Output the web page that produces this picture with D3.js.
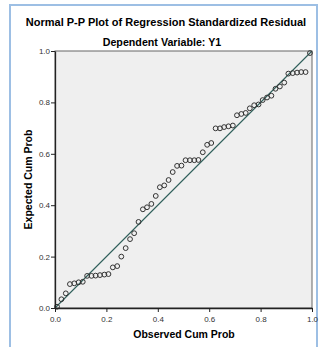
<!DOCTYPE html>
<html>
<head>
<meta charset="utf-8">
<script src="https://cdn.jsdelivr.net/npm/d3@7"></script>
<style>
  body { margin: 0; background: #fff; }
  svg { display: block; font-family: Arial, "Liberation Sans", sans-serif; }
</style>
</head>
<body>
<svg width="326" height="347"></svg>
<script>
var titleText = 'Normal P-P Plot of Regression Standardized Residual';
var subTitle = 'Dependent Variable: Y1';
var xLabel = 'Observed Cum Prob';
var yLabel = 'Expected Cum Prob';
var tickVals = [0, 0.2, 0.4, 0.6, 0.8, 1.0];

// observed cum prob
var observed = [0.008, 0.025, 0.042, 0.058, 0.075, 0.092, 0.108, 0.125, 0.142, 0.158,
  0.175, 0.192, 0.208, 0.225, 0.242, 0.258, 0.275, 0.292, 0.308, 0.325,
  0.342, 0.358, 0.375, 0.392, 0.408, 0.425, 0.442, 0.458, 0.475, 0.492,
  0.508, 0.525, 0.542, 0.558, 0.575, 0.592, 0.608, 0.625, 0.642, 0.658,
  0.675, 0.692, 0.708, 0.725, 0.742, 0.758, 0.775, 0.792, 0.808, 0.825,
  0.842, 0.858, 0.875, 0.892, 0.908, 0.925, 0.942, 0.958, 0.975, 0.992];
// expected cum prob
var expected = [0.005, 0.034, 0.057, 0.093, 0.096, 0.100, 0.102, 0.125, 0.125, 0.126,
  0.128, 0.130, 0.132, 0.158, 0.163, 0.200, 0.233, 0.268, 0.291, 0.335,
  0.384, 0.392, 0.405, 0.436, 0.470, 0.477, 0.498, 0.529, 0.553, 0.554,
  0.575, 0.575, 0.575, 0.576, 0.606, 0.635, 0.642, 0.699, 0.699, 0.704,
  0.707, 0.710, 0.750, 0.755, 0.759, 0.777, 0.789, 0.792, 0.809, 0.819,
  0.826, 0.853, 0.862, 0.877, 0.912, 0.914, 0.916, 0.918, 0.918, 0.992];

var pts = observed.map(function(o, i) { return { x: o, y: expected[i] }; });

var svg = d3.select('svg');
var pLeft = 55, pRight = 312, pTop = 51, pBottom = 308;

var x = d3.scaleLinear().domain([0, 1]).range([pLeft, pRight]);
var y = d3.scaleLinear().domain([0, 1]).range([pBottom, pTop]);

// outer frame
svg.append('rect')
  .attr('x', 10).attr('y', 5)
  .attr('width', 307).attr('height', 360)
  .attr('fill', 'none')
  .attr('stroke', '#9dbfe4')
  .attr('stroke-width', 2);

svg.append('text')
  .attr('x', 166).attr('y', 26)
  .attr('text-anchor', 'middle')
  .style('font-size', '11px').style('font-weight', 'bold')
  .text(titleText);

svg.append('text')
  .attr('x', 162).attr('y', 46)
  .attr('text-anchor', 'middle')
  .style('font-size', '10.7px').style('font-weight', 'bold')
  .text(subTitle);

// plot background
svg.append('rect')
  .attr('x', pLeft).attr('y', pTop)
  .attr('width', pRight - pLeft).attr('height', pBottom - pTop)
  .attr('fill', '#efefef')
  .attr('stroke', '#666')
  .attr('stroke-width', 1);

// reference line
svg.append('line')
  .attr('x1', x(0)).attr('y1', y(0))
  .attr('x2', x(1)).attr('y2', y(1))
  .attr('stroke', '#2e5e5a')
  .attr('stroke-width', 1.1);

svg.append('g')
  .selectAll('circle')
  .data(pts)
  .enter()
  .append('circle')
  .attr('cx', function(d) { return x(d.x); })
  .attr('cy', function(d) { return y(d.y); })
  .attr('r', 2.4)
  .attr('fill', 'none')
  .attr('stroke', '#333')
  .attr('stroke-width', 1);

var xAxis = svg.append('g')
  .attr('transform', 'translate(0,' + pBottom + ')')
  .call(d3.axisBottom(x).tickValues(tickVals).tickFormat(d3.format('.1f')).tickSize(4).tickSizeOuter(0));
var yAxis = svg.append('g')
  .attr('transform', 'translate(' + pLeft + ',0)')
  .call(d3.axisLeft(y).tickValues(tickVals).tickFormat(d3.format('.1f')).tickSize(4).tickSizeOuter(0));

[xAxis, yAxis].forEach(function(g) {
  g.select('.domain').attr('stroke', '#222').attr('stroke-width', 1.3);
  g.selectAll('.tick line').attr('stroke', '#222');
  g.selectAll('.tick text')
    .attr('fill', '#333')
    .style('font-size', '8px')
    .style('font-family', 'Arial, "Liberation Sans", sans-serif');
});
xAxis.selectAll('.tick text').attr('dy', '0.9em');
yAxis.selectAll('.tick text').attr('x', -5);

svg.append('text')
  .attr('x', 184).attr('y', 338)
  .attr('text-anchor', 'middle')
  .style('font-size', '10.5px').style('font-weight', 'bold')
  .text(xLabel);

svg.append('text')
  .attr('transform', 'translate(32,' + ((pTop + pBottom) / 2) + ') rotate(-90)')
  .attr('text-anchor', 'middle')
  .style('font-size', '10.5px').style('font-weight', 'bold')
  .text(yLabel);
</script>
</body>
</html>
